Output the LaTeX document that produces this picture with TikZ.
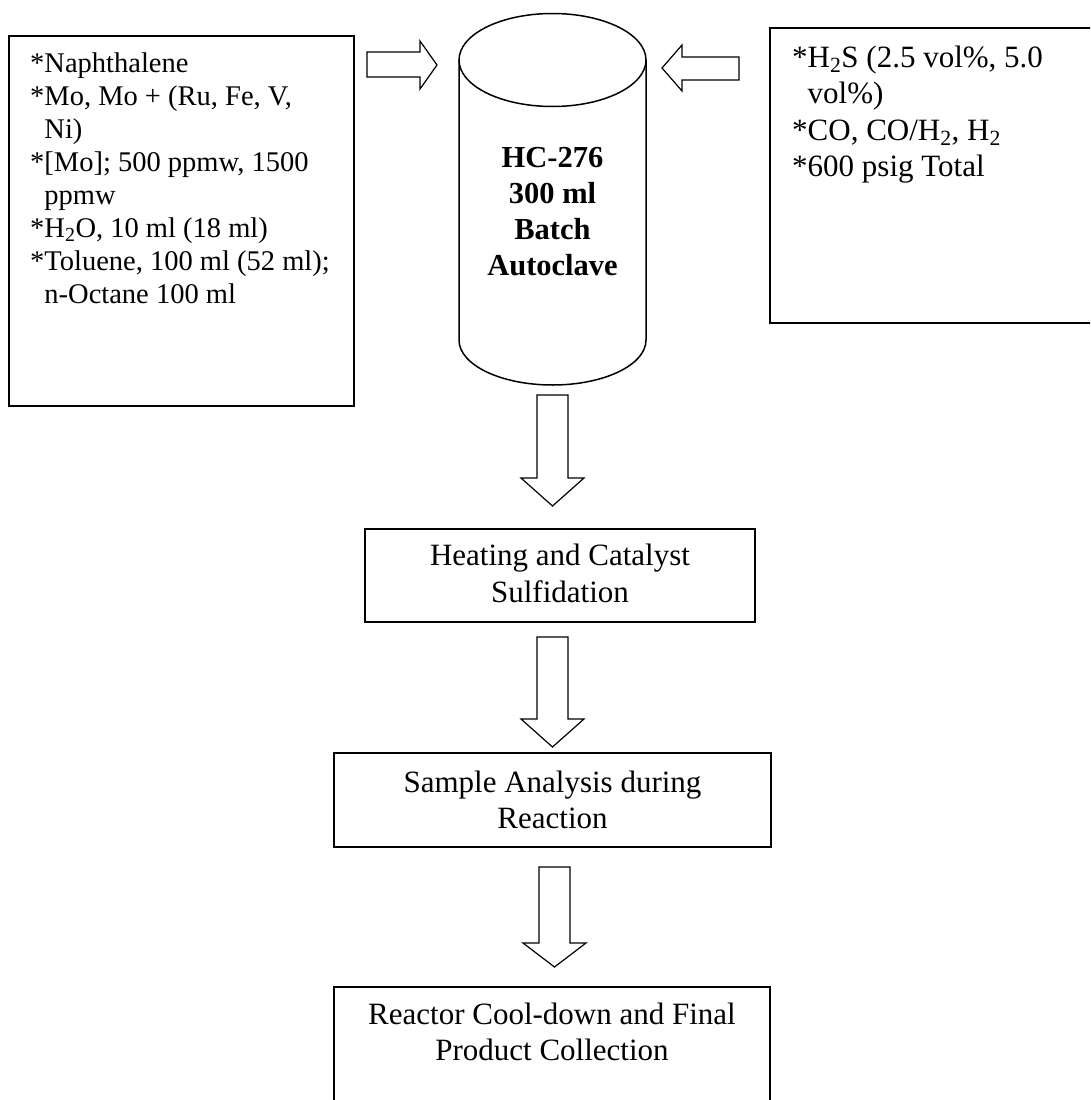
\documentclass[tikz,border=0pt]{standalone}
\usepackage{fontspec}
\setmainfont{Liberation Serif}
\begin{document}
\begin{tikzpicture}[x=1pt,y=-1pt,
  box/.style={draw, line width=1.5pt, inner sep=0pt, outer sep=0pt},
  blk/.style={draw, line width=1.2pt, fill=white, line join=miter},
  cyl/.style={draw, line width=1.5pt},
  tl/.style={anchor=base west, inner sep=0pt, font=\fontsize{28.5}{33}\selectfont},
  tr/.style={anchor=base west, inner sep=0pt, font=\fontsize{31}{36}\selectfont},
  tc/.style={anchor=base, inner sep=0pt, font=\fontsize{31}{36}\selectfont},
  tb/.style={anchor=base, inner sep=0pt, font=\fontsize{30.5}{36}\selectfont\bfseries}]
\path[use as bounding box] (0,0) rectangle (1090,1100);
\clip (0,0) rectangle (1090,1100);

% left input box
\node[box, anchor=north west, minimum width=345pt, minimum height=370pt] (inbox) at (9,36) {};
\node[tl] (l1) at (30,72) {*Naphthalene};
\node[tl] (l2) at (30,105) {*Mo, Mo + (Ru, Fe, V,};
\node[tl] (l3) at (30,138) {\hphantom{*}Ni)};
\node[tl] (l4) at (30,171) {*[Mo]; 500 ppmw, 1500};
\node[tl] (l5) at (30,204) {\hphantom{*}ppmw};
\node[tl] (l6) at (30,237) {*H\textsubscript{2}O, 10 ml (18 ml)};
\node[tl] (l7) at (30,270) {*Toluene, 100 ml (52 ml);};
\node[tl] (l8) at (30,303) {\hphantom{*}n-Octane 100 ml};

% right gas box (open at right edge)
\draw[line width=1.5pt] (1100,28) -- (770,28) -- (770,323) -- (1100,323);
\coordinate (gasbox) at (770,175);
\node[tr] (r1) at (792,67) {*H\textsubscript{2}S (2.5 vol\%, 5.0};
\node[tr] (r2) at (792,103) {\hphantom{*}vol\%)};
\node[tr] (r3) at (792,140) {*CO, CO/H\textsubscript{2}, H\textsubscript{2}};
\node[tr] (r4) at (792,176) {*600 psig Total};

% autoclave cylinder
\coordinate (cyltop) at (552.5,60);
\coordinate (cylbot) at (552.5,340);
\draw[cyl] (cyltop) ellipse [x radius=93.5pt, y radius=46.5pt];
\draw[cyl] (459,60) -- (459,340) arc[start angle=180, end angle=360, x radius=93.5pt, y radius=45pt] -- (646,60);
\node[tb] (c1) at (552.5,167) {HC-276};
\node[tb] (c2) at (552.5,203) {300 ml};
\node[tb] (c3) at (552.5,239) {Batch};
\node[tb] (c4) at (552.5,275) {Autoclave};

% side block arrows
\draw[blk] (367,52) -- (420,52) -- (420,41) -- (437,65) -- (420,89) -- (420,77) -- (367,77) -- cycle;
\draw[blk] (739,57) -- (682,57) -- (682,45) -- (662,68) -- (682,91) -- (682,80) -- (739,80) -- cycle;

% process boxes
\node[box, anchor=north west, minimum width=390pt, minimum height=93pt] (heat) at (365,529) {};
\node[tc] at (560,565) {Heating and Catalyst};
\node[tc] at (560,602) {Sulfidation};

\node[box, anchor=north west, minimum width=437pt, minimum height=94pt] (sample) at (334,753) {};
\node[tc] at (552.5,792) {Sample Analysis during};
\node[tc] at (552.5,828) {Reaction};

\draw[line width=1.5pt] (334,1110) -- (334,987) -- (770,987) -- (770,1110);
\coordinate (cool) at (552,987);
\node[tc] at (552,1024) {Reactor Cool-down and Final};
\node[tc] at (552,1060) {Product Collection};

% down block arrows
\draw[blk] (537,395) -- (568,395) -- (568,478) -- (584,478) -- (552.5,506) -- (521,478) -- (537,478) -- cycle;
\draw[blk] (537,637) -- (568,637) -- (568,719) -- (584,719) -- (552.5,747) -- (521,719) -- (537,719) -- cycle;
\draw[blk] (539,867) -- (570,867) -- (570,943) -- (586,943) -- (554.5,967) -- (523,943) -- (539,943) -- cycle;
\end{tikzpicture}
\end{document}
